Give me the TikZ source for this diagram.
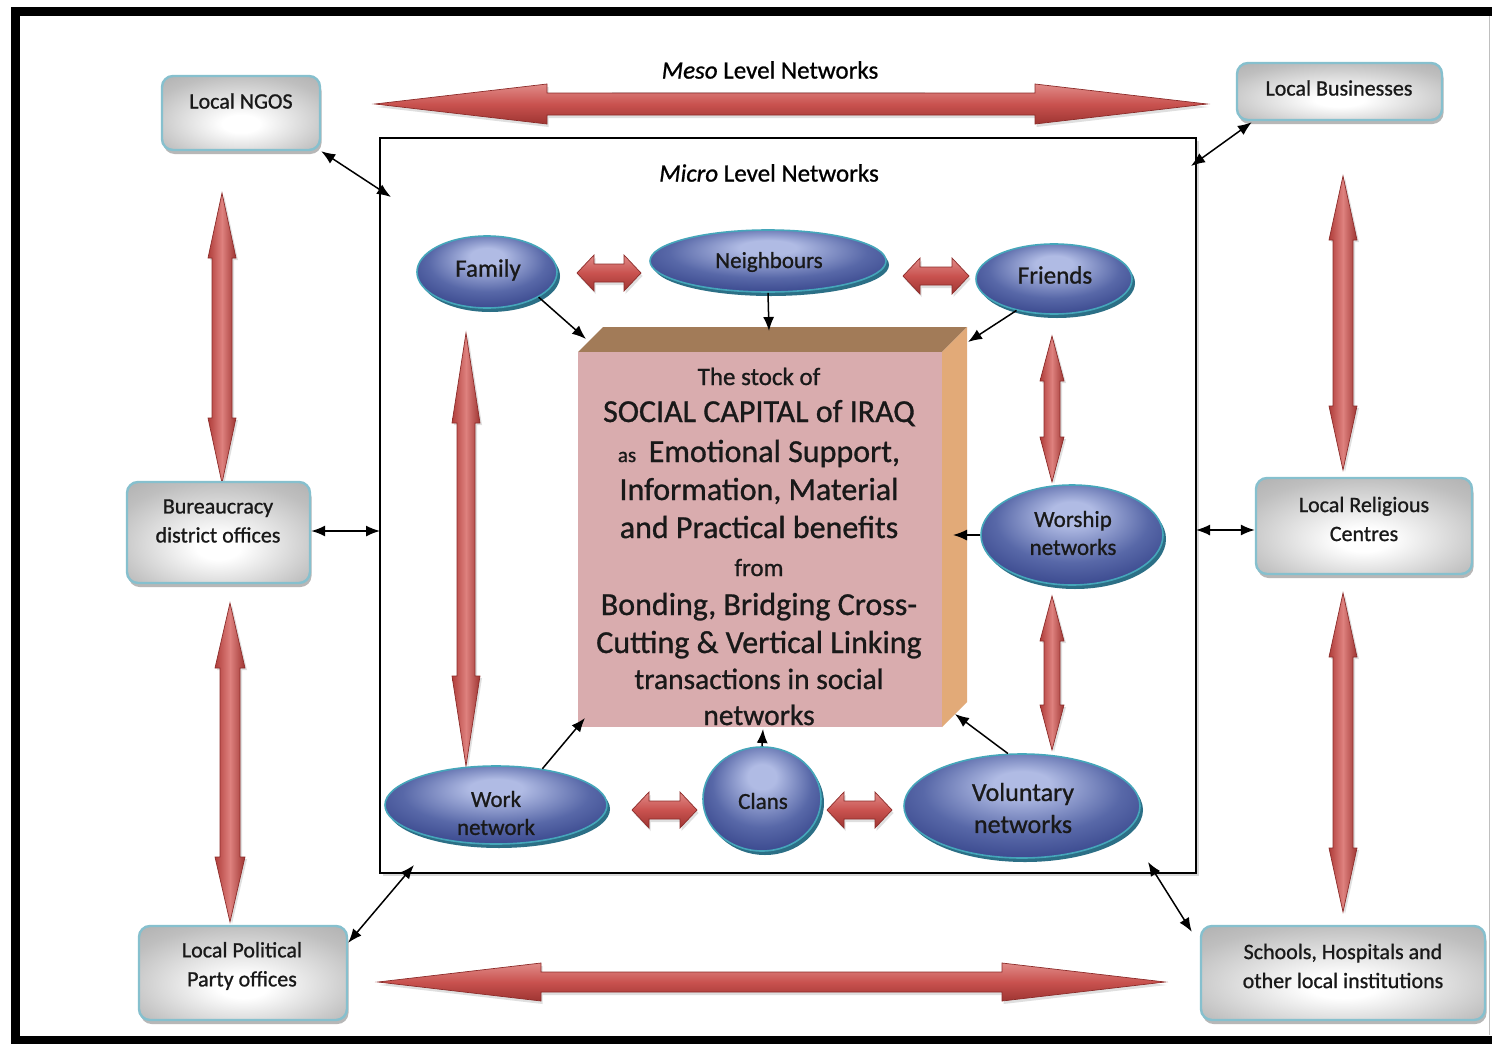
\documentclass[tikz,border=0pt]{standalone}
\usepackage{fontspec}
\setmainfont{Carlito}[FakeBold=0.9]
\usetikzlibrary{arrows.meta,shadows,calc,shapes.geometric}
\definecolor{elin}{HTML}{B0BBE4}
\definecolor{elmid}{HTML}{5868A8}
\definecolor{eldark}{HTML}{2B3981}
\definecolor{elout}{HTML}{17225C}
\definecolor{elledge}{HTML}{45A6BA}
\definecolor{rimcol}{HTML}{2C6F86}
\definecolor{boxedge}{HTML}{86C0CE}
\definecolor{boxgray}{HTML}{8A8A8A}
\definecolor{arrTop}{HTML}{E08B88}
\definecolor{arrMid}{HTML}{C9524F}
\definecolor{arrBot}{HTML}{9E3532}
\definecolor{arrEdge}{HTML}{8C2C2A}
\definecolor{arrLight}{HTML}{DE817E}
\definecolor{arrSide}{HTML}{B03D3A}
\definecolor{pinkface}{HTML}{D9ACAE}
\definecolor{topface}{HTML}{A27B58}
\definecolor{sideface}{HTML}{E2AA78}
\pgfdeclareradialshading{ellsh}{\pgfpoint{0bp}{12bp}}{color(0bp)=(elin); color(6bp)=(elin); color(21bp)=(elmid); color(36bp)=(eldark); color(54bp)=(elout)}
\pgfdeclareradialshading{boxsh}{\pgfpoint{0bp}{-8bp}}{color(0bp)=(white); color(6bp)=(white); color(30bp)=(boxgray!55); color(52bp)=(boxgray!85); color(72bp)=(boxgray)}
\newcommand{\harrow}[6]{% x1,x2,y,shaft half,head half,head length
  \path[blockH] (#1,#3) -- ({#1+#6},{#3-#5}) -- ({#1+#6},{#3-#4}) -- ({#2-#6},{#3-#4}) -- ({#2-#6},{#3-#5}) -- (#2,#3) -- ({#2-#6},{#3+#5}) -- ({#2-#6},{#3+#4}) -- ({#1+#6},{#3+#4}) -- ({#1+#6},{#3+#5}) -- cycle;}
\newcommand{\varrow}[6]{% x,y1,y2,shaft half,head half,head length
  \path[blockV] (#1,#2) -- ({#1-#5},{#2+#6}) -- ({#1-#4},{#2+#6}) -- ({#1-#4},{#3-#6}) -- ({#1-#5},{#3-#6}) -- (#1,#3) -- ({#1+#5},{#3-#6}) -- ({#1+#4},{#3-#6}) -- ({#1+#4},{#2+#6}) -- ({#1+#5},{#2+#6}) -- cycle;}
\newcommand{\ellnode}[5]{% name,x,y,w,h
  \fill[rimcol] ({#2+3},{#3+4}) ellipse [x radius={#4/2*1pt}, y radius={#5/2*1pt}];
  \node[ellnode, minimum width=#4pt, minimum height=#5pt] (#1) at (#2,#3) {};}
\begin{document}
\begin{tikzpicture}[x=1pt,y=-1pt,
  lbl/.style={font=\fontsize{22}{29}\selectfont, align=center, inner sep=0pt, text=black!90},
  elbl/.style={font=\fontsize{23}{28}\selectfont, align=center, inner sep=0pt, text=black!90},
  ctext/.style={anchor=base, inner sep=0pt, text=black!90},
  graybox/.style={rectangle, rounded corners=11pt, shade, shading=boxsh, draw=boxedge, line width=2.4pt,
    inner sep=0pt, drop shadow={shadow xshift=1.5pt, shadow yshift=-4pt, opacity=0.4, fill=black!70}},
  ellnode/.style={ellipse, shade, shading=ellsh, draw=elledge, line width=1.6pt, inner sep=0pt},
  blockH/.style={draw=arrEdge, line width=0.7pt, top color=arrTop, bottom color=arrBot, middle color=arrMid,
    drop shadow={shadow xshift=1.5pt, shadow yshift=-3pt, opacity=0.25}},
  blockV/.style={draw=arrEdge, line width=0.7pt, left color=arrSide, right color=arrBot, middle color=arrLight,
    drop shadow={shadow xshift=2pt, shadow yshift=-2pt, opacity=0.25}},
  conn/.style={line width=1.5pt, {Latex[length=14pt,width=11pt]}-{Latex[length=14pt,width=11pt]}},
  onew/.style={line width=1.5pt, -{Latex[length=14pt,width=11pt]}}]
\useasboundingbox (0,0) rectangle (1492,1044);
\fill[white] (0,0) rectangle (1492,1044);
% outer frame
\draw[line width=9pt] (15,11) rectangle (1510,1040);
\draw[black!25, line width=1pt] (1489,16) -- (1489,1035);
% meso label
\node[rectangle, fill=white, minimum width=313pt, minimum height=44pt, inner sep=0pt,
  drop shadow={shadow xshift=0pt, shadow yshift=-2pt, opacity=0.25}] (meso) at (768,70) {};
\node[font=\fontsize{25}{30}\selectfont, inner sep=0pt] (mesot) at (770,70) {\textit{Meso} Level Networks};
% big outer arrows
\harrow{375}{1207}{104}{11}{20}{172}
\harrow{378}{1165}{982}{10}{19}{163}
\varrow{222}{193}{483}{10}{14}{65}
\varrow{230}{603}{922}{10}{15}{65}
\varrow{1343}{176}{470}{10}{14}{64}
\varrow{1343}{593}{912}{10}{14}{64}
% micro box
\node[rectangle, draw=black, line width=1.5pt, fill=white, minimum width=816pt, minimum height=735pt, inner sep=0pt,
  drop shadow={shadow xshift=3pt, shadow yshift=-3pt, opacity=0.3}] (micro) at (788,505.5) {};
\node[font=\fontsize{25}{30}\selectfont, inner sep=0pt] (microt) at (769,173) {\textit{Micro} Level Networks};
% gray boxes
\node[graybox, minimum width=158pt, minimum height=74pt] (ngos) at (241,113) {};
\node[lbl] (ngost) at (241,101) {Local NGOS};
\node[graybox, minimum width=205pt, minimum height=57pt] (bus) at (1339.5,91.5) {};
\node[lbl] (bust) at (1339,88) {Local Businesses};
\node[graybox, minimum width=183pt, minimum height=101pt] (bur) at (218.5,532.5) {};
\node[lbl] (burt) at (218,521) {Bureaucracy\\district offices};
\node[graybox, minimum width=216pt, minimum height=96pt] (rel) at (1364,526) {};
\node[lbl] (relt) at (1364,519) {Local Religious\\Centres};
\node[graybox, minimum width=208pt, minimum height=94pt] (pol) at (243,973) {};
\node[lbl] (polt) at (242,966) {Local Political\\Party offices};
\node[graybox, minimum width=284pt, minimum height=94pt] (sch) at (1343,973) {};
\node[lbl] (scht) at (1343,966) {Schools, Hospitals and\\other local institutions};
% inner arrows
\varrow{466}{333}{766}{9}{14}{90}
\varrow{1052}{336}{482}{8}{12}{45}
\varrow{1052}{596}{750}{8}{12}{45}
% central 3D box
\fill[topface] (578,352) -- (603,327) -- (967,327) -- (942,352) -- cycle;
\fill[sideface] (942,352) -- (967,327) -- (967,702) -- (942,727) -- cycle;
\node[rectangle, fill=pinkface, minimum width=364pt, minimum height=375pt, inner sep=0pt] (core) at (760,539.5) {};
\node[ctext, font=\fontsize{25}{30}\selectfont] (c1) at (759,385) {The stock of};
\node[ctext, font=\fontsize{32}{36}\selectfont] (c2) at (759,422) {SOCIAL CAPITAL of IRAQ};
\node[ctext, font=\fontsize{32}{36}\selectfont] (c3) at (759,462) {{\fontsize{21}{25}\selectfont as}\, Emotional Support,};
\node[ctext, font=\fontsize{32}{36}\selectfont] (c4) at (759,500) {Information, Material};
\node[ctext, font=\fontsize{32}{36}\selectfont] (c5) at (759,538) {and Practical benefits};
\node[ctext, font=\fontsize{25}{30}\selectfont] (c6) at (759,576) {from};
\node[ctext, font=\fontsize{32}{36}\selectfont] (c7) at (759,615) {Bonding, Bridging Cross-};
\node[ctext, font=\fontsize{32}{36}\selectfont] (c8) at (759,653) {Cutting \& Vertical Linking};
\node[ctext, font=\fontsize{29.5}{34}\selectfont] (c9) at (759,689) {transactions in social};
\node[ctext, font=\fontsize{29.5}{34}\selectfont] (c10) at (759,725) {networks};
% ellipses
\ellnode{fam}{487}{272}{140}{72}
\node[elbl, font=\fontsize{25}{30}\selectfont] (famt) at (488,270) {Family};
\ellnode{nei}{768}{261}{236}{62}
\node[elbl] (neit) at (769,262) {Neighbours};
\ellnode{fri}{1054}{279}{156}{70}
\node[elbl, font=\fontsize{25}{30}\selectfont] (frit) at (1055,275) {Friends};
\ellnode{wor}{1072}{535}{182}{100}
\node[elbl] (wort) at (1073,533) {Worship\\networks};
\ellnode{wrk}{496}{805}{222}{78}
\node[elbl] (wrkt) at (496,813) {Work\\network};
\ellnode{cla}{762}{799}{118}{104}
\node[elbl] (clat) at (763,801) {Clans};
\ellnode{vol}{1022}{806}{236}{104}
\node[elbl, font=\fontsize{26}{32}\selectfont] (volt) at (1023,808) {Voluntary\\networks};
% small block arrows
\harrow{577}{641}{273}{9}{18}{17}
\harrow{903}{969}{276}{9}{18}{17}
\harrow{632}{697}{810}{9}{18}{17}
\harrow{827}{892}{810}{9}{18}{17}
% connector end points
\coordinate (mNW) at (391,197);
\coordinate (mNE) at (1191,166);
\coordinate (mW) at (380,531);
\coordinate (mE) at (1196,530);
\coordinate (mSW) at (414,865);
\coordinate (mSE) at (1148,862);
\coordinate (kFam) at (586,339);
\coordinate (kNei) at (769,331);
\coordinate (kFri) at (968,342);
\coordinate (kWor) at (953,535);
\coordinate (kWrk) at (585,718);
\coordinate (kCla) at (763,729);
\coordinate (kVol) at (955,714);
% outer connectors
\draw[conn] (ngos.south east) -- (mNW);
\draw[conn] ($(bus.south west)+(16,1)$) -- (mNE);
\draw[conn] (bur.east |- mW) -- (mW);
\draw[conn] (mE) -- (rel.west |- mE);
\draw[conn] ($(pol.north east)+(0,18)$) -- (mSW);
\draw[conn] (mSE) -- ($(sch.north west)+(-8,7)$);
% inner connectors
\draw[onew] (fam.-26) -- (kFam);
\draw[onew] (nei.south) -- (kNei);
\draw[onew] (fri.-140) -- (kFri);
\draw[onew] (wor.west) -- (kWor);
\draw[onew] (wrk.38) -- (kWrk);
\draw[onew] (cla.north) -- (kCla);
\draw[onew] (vol.105) -- (kVol);
\end{tikzpicture}
\end{document}
